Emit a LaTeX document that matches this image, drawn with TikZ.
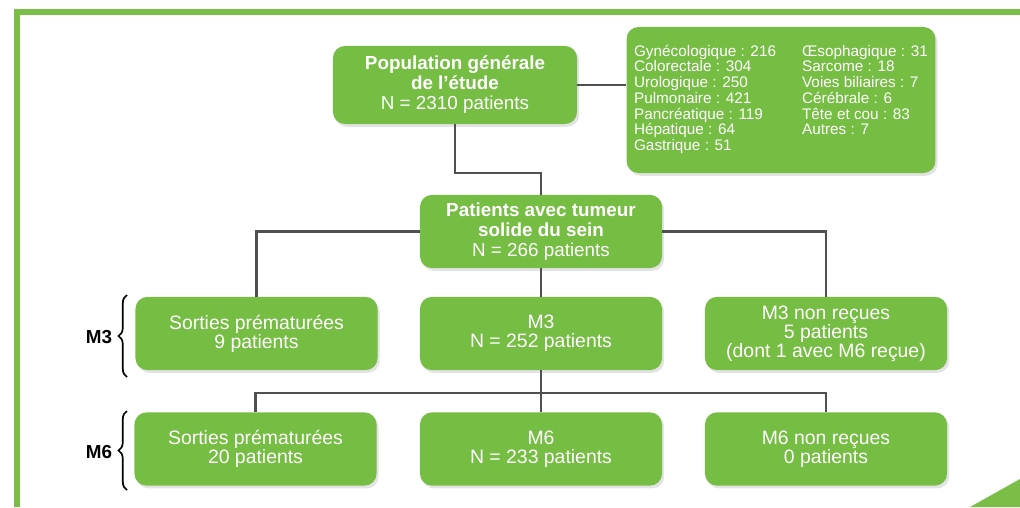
\documentclass[tikz,border=0pt]{standalone}
\usepackage{fontspec}
\setmainfont{Liberation Sans}
\definecolor{boxgreen}{RGB}{118,189,67}
\definecolor{framegreen}{RGB}{122,190,72}
\definecolor{linkgray}{RGB}{80,80,80}
\usetikzlibrary{shadows,decorations.pathreplacing}

\begin{document}
\begin{tikzpicture}[x=0.025cm,y=-0.025cm,
    box/.style={fill=boxgreen,rounded corners=0.3cm,text=white,align=center,
      minimum width=6.05cm,minimum height=1.83cm,inner sep=2pt,
      font=\fontsize{13.8}{13.6}\selectfont,
      drop shadow={shadow xshift=1.5pt,shadow yshift=-2pt,opacity=0.22}},
    bigbox/.style={box,font=\fontsize{13.4}{14.2}\selectfont\bfseries},
    link/.style={draw=linkgray,line width=1.8pt},
    period/.style={font=\fontsize{13.4}{13}\selectfont\bfseries},
    bracket/.style={decorate,decoration={brace,amplitude=6pt},line width=1.2pt}]
  \useasboundingbox (0,0) rectangle (1020,507);
  \draw[framegreen,line width=3.6pt] (1020,12) -- (17,12) -- (17,507);
  \fill[framegreen] (970,507) -- (1020,479) -- (1020,507) -- cycle;

  \node[bigbox,minimum width=6.1cm,minimum height=1.95cm] (pop) at (455,85)
    {Population générale\\de l’étude\\\mdseries N = 2310 patients};
  \node[box,minimum width=7.72cm,minimum height=3.65cm,
        font=\fontsize{10.9}{10.85}\selectfont] (types) at (781,100)
    {\begin{tabular}{@{}p{4.2cm}@{}l@{}}
     Gynécologique : 216 & Œsophagique : 31\\
     Colorectale : 304 & Sarcome : 18\\
     Urologique : 250 & Voies biliaires : 7\\
     Pulmonaire : 421 & Cérébrale : 6\\
     Pancréatique : 119 & Tête et cou : 83\\
     Hépatique : 64 & Autres : 7\\
     Gastrique : 51 &
     \end{tabular}};
  \node[bigbox] (tumeur) at (541,231.5)
    {Patients avec tumeur\\solide du sein\\\mdseries N = 266 patients};

  \node[box] (sortiesA) at (256.5,333.5) {Sorties prématurées\\9 patients};
  \node[box] (mthree) at (541,333.5) {M3\\N = 252 patients};
  \node[box] (nonA) at (826,333.5) {M3 non reçues\\5 patients\\(dont 1 avec M6 reçue)};

  \node[box] (sortiesB) at (255.5,449) {Sorties prématurées\\20 patients};
  \node[box] (msix) at (541,449) {M6\\N = 233 patients};
  \node[box] (nonB) at (826,449) {M6 non reçues\\0 patients};

  \coordinate (bend) at (500,173);
  \coordinate (split) at (541,393);
  \draw[link] (pop.east) -- (pop.east -| types.west);
  \draw[link] (pop.south) |- (bend) -| (tumeur.north);
  \draw[link] (tumeur.west) -| (sortiesA.north);
  \draw[link] (tumeur.east) -| (nonA.north);
  \draw[link] (tumeur.south) -- (mthree.north);
  \draw[link] (mthree.south) -- (msix.north);
  \draw[link] (sortiesB.north) |- (split) -| (nonB.north);

  \node[period] (labthree) at (99,337) {M3};
  \node[period] (labsix) at (99,452) {M6};
  \draw[bracket] (127,377) -- (127,295);
  \draw[bracket] (127,490) -- (127,411);
\end{tikzpicture}
\end{document}
